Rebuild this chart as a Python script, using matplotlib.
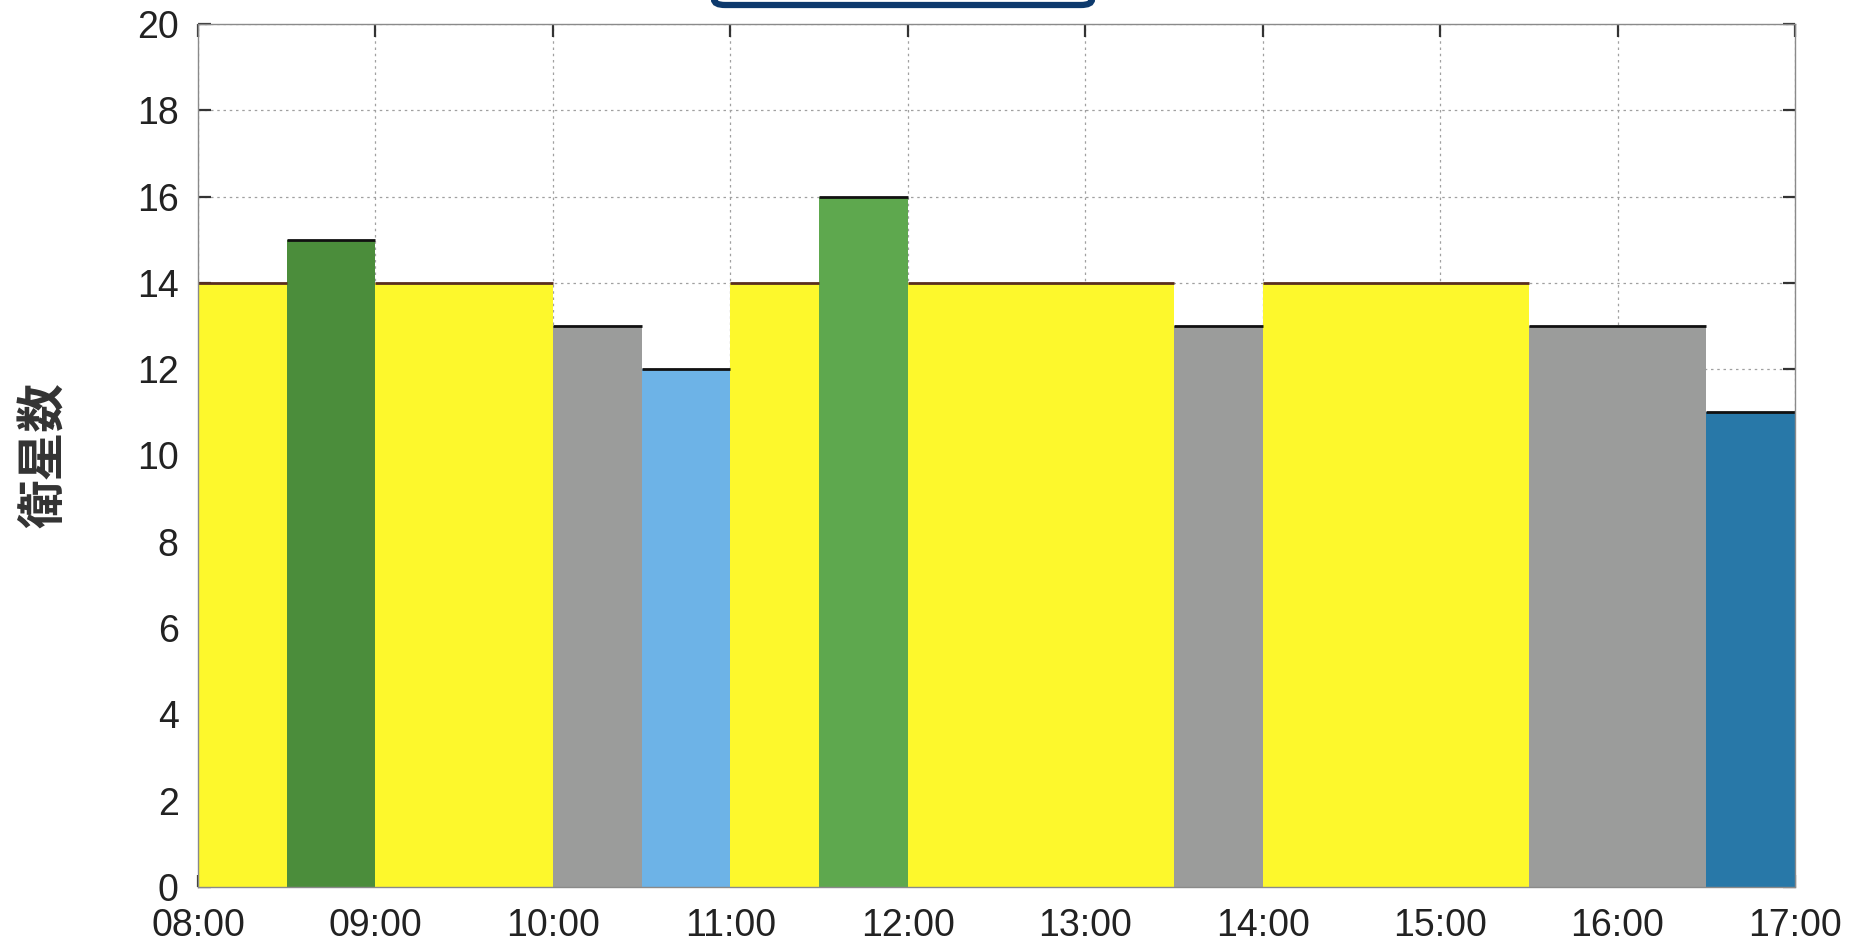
"""Satellite count by time slot (08:00-17:00) as a step-like bar chart."""
import matplotlib
matplotlib.use("Agg")
import matplotlib.pyplot as plt
from matplotlib.patches import FancyBboxPatch

plt.rcParams["font.family"] = ["Liberation Sans", "Noto Sans CJK JP", "DejaVu Sans"]

# ---------------------------------------------------------------------------
# Data
# ---------------------------------------------------------------------------
slot_start = ["08:00", "08:30", "09:00", "10:00", "10:30", "11:00",
              "11:30", "12:00", "13:30", "14:00", "15:30", "16:30"]
slot_end   = ["08:30", "09:00", "10:00", "10:30", "11:00", "11:30",
              "12:00", "13:30", "14:00", "15:30", "16:30", "17:00"]
sat_count  = [14, 15, 14, 13, 12, 14, 16, 14, 13, 14, 13, 11]
slot_kind  = ["yellow", "green_dk", "yellow", "gray", "blue_lt", "yellow",
              "green", "yellow", "gray", "yellow", "gray", "blue_dk"]

x_ticks  = ["08:00", "09:00", "10:00", "11:00", "12:00", "13:00",
            "14:00", "15:00", "16:00", "17:00"]
y_ticks  = list(range(0, 21, 2))
y_label  = "衛星数"

FILL = {
    "yellow":   "#fdf82c",
    "green_dk": "#4b8d3b",
    "green":    "#5ea84e",
    "gray":     "#9b9c9b",
    "blue_lt":  "#6db3e7",
    "blue_dk":  "#2878a8",
}
TOP = {"yellow": "#5a2e1e"}  # others get black


def to_hours(s: str) -> float:
    h, m = s.split(":")
    return int(h) + int(m) / 60


# ---------------------------------------------------------------------------
# Plot
# ---------------------------------------------------------------------------
fig = plt.figure(figsize=(18.6, 9.42), dpi=100)
ax = fig.add_axes([198 / 1860, 1 - 887 / 942, (1795 - 198) / 1860, (887 - 24) / 942])

starts = [to_hours(s) for s in slot_start]
ends   = [to_hours(s) for s in slot_end]
widths = [e - s for s, e in zip(starts, ends)]

ax.bar(starts, sat_count, width=widths, align="edge",
       color=[FILL[k] for k in slot_kind], linewidth=0, zorder=2)
ax.hlines(sat_count, starts, ends,
          colors=[TOP.get(k, "#111111") for k in slot_kind],
          linewidth=2.0, zorder=3)

xt = [to_hours(s) for s in x_ticks]
ax.set_xlim(xt[0], xt[-1])
ax.set_ylim(0, 20)
ax.set_xticks(xt)
ax.set_xticklabels(x_ticks)
ax.set_yticks(y_ticks)

ax.grid(True, color="#a0a0a0", linestyle=(0, (2, 3)), linewidth=0.9, zorder=0)
ax.set_axisbelow(True)

for sp in ax.spines.values():
    sp.set_color("#8a8a8a")
    sp.set_linewidth(1.0)
    sp.set_zorder(4)

ax.tick_params(axis="both", which="major", direction="in", length=9, width=1.6,
               color="#333333", labelsize=27, labelcolor="#222222",
               top=True, right=True)
ax.tick_params(axis="y", pad=14)
ax.tick_params(axis="x", pad=15)

ax.set_ylabel(y_label, fontsize=35, fontweight="bold", color="#333333",
              family=["Noto Sans CJK JP", "DejaVu Sans"])
ax.yaxis.set_label_coords(-0.081, 0.5)

# clipped title box peeking in at the top edge
box = FancyBboxPatch((714 / 1860, 1 - 5 / 942), (1092 - 714) / 1860, 60 / 942,
                     boxstyle="round,pad=0,rounding_size=0.006",
                     transform=fig.transFigure, facecolor="white",
                     edgecolor="#0d3a6d", linewidth=4.5, clip_on=False)
fig.patches.append(box)

fig.savefig("out.png", dpi=100)
plt.close(fig)
